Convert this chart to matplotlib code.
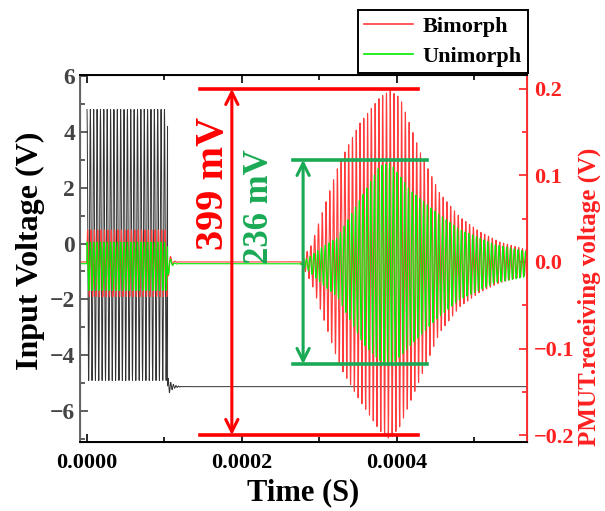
import numpy as np
import matplotlib
matplotlib.use("Agg")
import matplotlib.pyplot as plt
from matplotlib.ticker import MultipleLocator

plt.rcParams['font.family'] = ['Liberation Serif', 'DejaVu Serif']
plt.rcParams['font.weight'] = 'bold'

# ---- values ----
# input drive burst (left axis, V)
drive_end = 0.000104
drive_top = 4.8
drive_bottom = -4.9
drive_rest = -5.12
drive_freq = 230e3

# crosstalk during drive (right axis, V)
bi_burst = (0.037, -0.040)
uni_burst = (0.025, -0.031)
uni_base = -0.002

# echo envelopes (right axis, V)
bi_env_t = [0.000275, 0.000290, 0.000301, 0.000326, 0.000352, 0.000378, 0.000391,
            0.000404, 0.000430, 0.000455, 0.000481, 0.000507, 0.000533, 0.000568]
bi_env_up = [0.0, 0.02, 0.05, 0.115, 0.160, 0.190, 0.198,
             0.190, 0.127, 0.080, 0.052, 0.035, 0.023, 0.014]
bi_env_lo = [0.0, -0.025, -0.054, -0.120, -0.160, -0.195, -0.205,
             -0.190, -0.135, -0.082, -0.052, -0.035, -0.024, -0.015]
uni_env_t = [0.000275, 0.000290, 0.000305, 0.000323, 0.000357, 0.000378, 0.000392,
             0.000417, 0.000450, 0.000480, 0.000527, 0.000568]
uni_env_up = [0.0, 0.010, 0.020, 0.030, 0.081, 0.113, 0.116,
              0.085, 0.060, 0.040, 0.022, 0.014]
uni_env_lo = [0.0, -0.012, -0.025, -0.038, -0.093, -0.112, -0.118,
              -0.095, -0.065, -0.042, -0.022, -0.015]
echo_freq = 205e3

x_ticks = [0.0000, 0.0002, 0.0004]

# ---- build traces ----
t = np.linspace(-0.00001, 0.000568, 14000)
tb = t[t >= 0]
c_drive = np.sin(2 * np.pi * drive_freq * tb + np.pi / 2)
mid = (drive_top + drive_bottom) / 2
amp = (drive_top - drive_bottom) / 2
after = tb - drive_end
drive = np.where(tb <= drive_end, mid + amp * c_drive,
                 drive_rest + 0.35 * np.exp(-np.clip(after, 0, None) / 5e-6)
                 * np.sin(2 * np.pi * drive_freq * 1.3 * after))

def burst(lvl, base, phase):
    c = np.sin(2 * np.pi * drive_freq * t + phase)
    inside = (t >= 0) & (t <= drive_end)
    s = np.where(c > 0, lvl[0] * c, -lvl[1] * c)
    a = t - drive_end
    ring = -0.6 * abs(lvl[1]) * np.exp(-np.clip(a, 0, None) / 3e-6) * np.sin(2 * np.pi * drive_freq * 0.8 * a)
    return np.where(inside, base + s, np.where(t > drive_end, base + ring, base))

def echo(et, up, lo, phase):
    c = np.sin(2 * np.pi * echo_freq * t + phase)
    u = np.interp(t, et, up, left=0, right=up[-1])
    l = np.interp(t, et, lo, left=0, right=lo[-1])
    return np.where(c > 0, u * c, -l * c)

bi = burst(bi_burst, 0.0, 0.3) + echo(bi_env_t, bi_env_up, bi_env_lo, 0.0)
uni = burst(uni_burst, uni_base, 1.4) + echo(uni_env_t, uni_env_up, uni_env_lo, 1.2)

# ---- figure ----
fig = plt.figure(figsize=(6.05, 5.11), dpi=100)
ax = fig.add_axes([80 / 605, 1 - 442 / 511, 447 / 605, 367 / 511])
ax2 = ax.twinx()

ax.plot(tb, drive, color='#333333', lw=0.7)
lb, = ax2.plot(t, bi, color='#ff3b3b', lw=0.8, label='Bimorph')
lu, = ax2.plot(t, uni, color='#00ee00', lw=0.8, label='Unimorph')

ax.set_xlim(-0.000009, 0.000568)
ax.set_ylim(-7.1, 6.03)
ax2.set_ylim(-0.208, 0.216)

ax.set_xticks(x_ticks)
ax.xaxis.set_minor_locator(MultipleLocator(0.0001))
ax.yaxis.set_major_locator(MultipleLocator(2))
ax.yaxis.set_minor_locator(MultipleLocator(1))
ax2.yaxis.set_major_locator(MultipleLocator(0.1))
ax2.yaxis.set_minor_locator(MultipleLocator(0.05))
ax.xaxis.set_major_formatter(plt.FuncFormatter(lambda v, p: f"{v:.4f}"))
ax2.yaxis.set_major_formatter(plt.FuncFormatter(lambda v, p: f"{v:.1f}".replace('-', '\u2212')))

ax.tick_params(axis='x', which='both', direction='in', top=True, labelsize=16, colors='black', pad=8)
ax.tick_params(axis='x', which='major', length=6, width=1.2)
ax.tick_params(axis='x', which='minor', length=3.5, width=1.2)
ax.tick_params(axis='y', which='both', direction='in', labelsize=17, colors='#444444', width=1.2)
ax.tick_params(axis='y', which='major', length=6)
ax.tick_params(axis='y', which='minor', length=3.5)
ax2.tick_params(axis='y', which='both', direction='in', labelsize=16, colors='#ff2020', width=1.2, pad=5)
ax2.tick_params(axis='y', which='major', length=6)
ax2.tick_params(axis='y', which='minor', length=3.5)

for s in ['top', 'bottom']:
    ax2.spines[s].set_color('black')
    ax2.spines[s].set_linewidth(1.4)
ax2.spines['left'].set_color('#666666')
ax2.spines['left'].set_linewidth(1.4)
ax2.spines['right'].set_color('#ff3030')
ax2.spines['right'].set_linewidth(1.4)

ax.set_xlabel('Time (S)', fontsize=22, fontweight='bold', labelpad=4)
ax.set_ylabel('Input Voltage (V)', fontsize=23, fontweight='bold', labelpad=0)
ax.yaxis.set_label_coords(-0.078, 0.52)
ax2.set_ylabel('PMUT.receiving voltage (V)', fontsize=18, fontweight='bold', color='#ff2020')
ax2.yaxis.set_label_coords(1.114, 0.395)

# annotations
red = '#ff0000'
grn = '#1aaa55'
ax2.plot([0.000146, 0.000427], [0.2, 0.2], color=red, lw=2.6)
ax2.plot([0.000146, 0.000427], [-0.2, -0.2], color=red, lw=2.6)
ax2.annotate('', xy=(0.000187, 0.2), xytext=(0.000187, -0.2),
             arrowprops=dict(arrowstyle='<->', color=red, lw=2.2, mutation_scale=22,
                             shrinkA=0, shrinkB=0))
ax2.text(0.000163, 0.091, '399 mV', color=red, fontsize=29, fontweight='bold',
         rotation=90, ha='center', va='center')

ax2.plot([0.000266, 0.000439], [0.118, 0.118], color=grn, lw=2.6)
ax2.plot([0.000266, 0.000439], [-0.118, -0.118], color=grn, lw=2.6)
ax2.annotate('', xy=(0.000279, 0.118), xytext=(0.000279, -0.118),
             arrowprops=dict(arrowstyle='<->', color=grn, lw=2.2, mutation_scale=22,
                             shrinkA=0, shrinkB=0))
ax2.text(0.000223, 0.064, '236 mV', color=grn, fontsize=25, fontweight='bold',
         rotation=90, ha='center', va='center')

leg = fig.legend(handles=[lb, lu], loc='upper right', bbox_to_anchor=(528 / 605, 1 - 10 / 511),
                 bbox_transform=fig.transFigure, borderaxespad=0, fancybox=False,
                 edgecolor='black', fontsize=16, handlelength=2.2, borderpad=0.3,
                 labelspacing=0.4, handletextpad=0.4, framealpha=1)
leg.get_frame().set_linewidth(1.4)
for line in leg.get_lines():
    line.set_linewidth(1.2)

fig.savefig('out.png', dpi=100)
